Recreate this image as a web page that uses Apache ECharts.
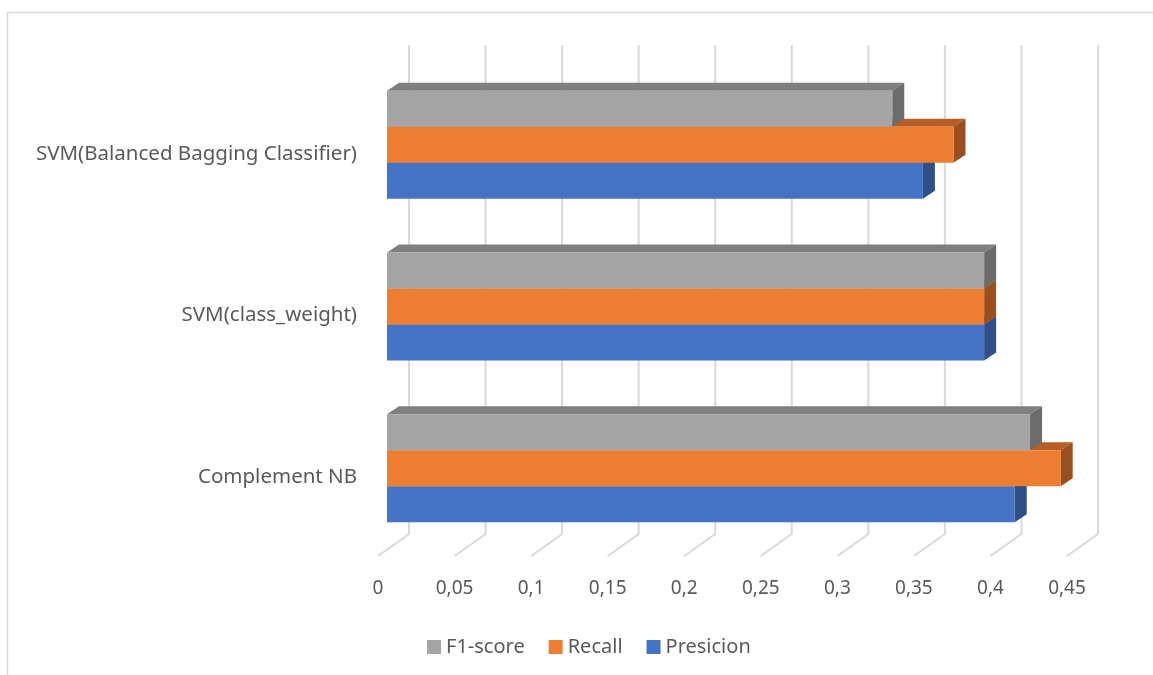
<!DOCTYPE html>
<html>
<head>
<meta charset="utf-8">
<title>Classifier metrics</title>
<script src="https://cdn.jsdelivr.net/npm/echarts@6/dist/echarts.min.js"></script>
<style>
  html, body { margin: 0; padding: 0; background: #ffffff; }
  #chart { width: 1153px; height: 675px; }
</style>
</head>
<body>
<div id="chart"></div>
<script>
// Models (bottom to top on the category axis)
const categories = ['Complement NB', 'SVM(class_weight)', 'SVM(Balanced Bagging Classifier)'];

// Scores per model, same order as categories
const f1Score   = [0.42, 0.39, 0.33];
const recall    = [0.44, 0.39, 0.37];
const presicion = [0.41, 0.39, 0.35];

// Value axis ticks
const xTicks = [0, 0.05, 0.1, 0.15, 0.2, 0.25, 0.3, 0.35, 0.4, 0.45];

const legendNames = ['F1-score', 'Recall', 'Presicion'];

// Oblique depth of the 3D boxes and of the back wall (pixels)
const BAR_DX = 12, BAR_DY = 8;
const WALL_DX = 22, WALL_TOP = 19, WALL_BOTTOM = 15;
const FLOOR_DX = 9, FLOOR_DY = 7;

const GRID_LEFT = 387, GRID_W = 689, GRID_TOP = 64, GRID_BOTTOM = 126;

const fontFamily = '"Noto Sans", "Open Sans", sans-serif';

// One 3D box per data item: top face, right face, front face.
// slot 0 = upper bar of the group, slot 2 = lower bar.
function boxRenderer(slot, front, top, side) {
  return function (params, api) {
    const v = api.value(0);
    const cat = api.value(1);
    const p0 = api.coord([0, cat]);
    const p1 = api.coord([v, cat]);
    const band = api.size([0, 1])[1];
    const barH = band * 0.668 / 3;
    const y0 = p0[1] - barH * 1.5 + slot * barH;
    const y1 = y0 + barH;
    const x0 = p0[0], x1 = p1[0];
    return {
      type: 'group',
      children: [
        { type: 'polygon',
          shape: { points: [[x0, y0], [x0 + BAR_DX, y0 - BAR_DY], [x1 + BAR_DX, y0 - BAR_DY], [x1, y0]] },
          style: { fill: top } },
        { type: 'polygon',
          shape: { points: [[x1, y0], [x1 + BAR_DX, y0 - BAR_DY], [x1 + BAR_DX, y1 - BAR_DY], [x1, y1]] },
          style: { fill: side } },
        { type: 'rect',
          shape: { x: x0, y: y0, width: x1 - x0, height: barH },
          style: { fill: front } }
      ]
    };
  };
}

// Back-wall gridlines with their floor segments
function wallRenderer(params, api) {
  const x = api.coord([api.value(0), 0])[0];
  const cs = params.coordSys;
  const bottom = cs.y + cs.height;
  return {
    type: 'polyline',
    shape: { points: [
      [x - FLOOR_DX, bottom + FLOOR_DY],
      [x + WALL_DX, bottom - WALL_BOTTOM],
      [x + WALL_DX, cs.y - WALL_TOP]
    ] },
    style: { stroke: '#d9d9d9', lineWidth: 2, fill: null }
  };
}

function pairs(values) {
  return values.map((v, i) => [v, i]);
}

const chart = echarts.init(document.getElementById('chart'), null, { renderer: 'canvas' });

chart.setOption({
  animation: false,
  backgroundColor: '#ffffff',
  textStyle: { fontFamily: fontFamily },
  graphic: [{
    type: 'rect',
    shape: { x: 7.5, y: 12.5, width: 1200, height: 700 },
    style: { fill: null, stroke: '#d9d9d9', lineWidth: 1.5 },
    silent: true
  }],
  legend: {
    data: legendNames,
    left: 422,
    top: 632,
    icon: 'rect',
    itemWidth: 14,
    itemHeight: 14,
    itemGap: 24,
    textStyle: { color: '#595959', fontSize: 20, fontFamily: fontFamily }
  },
  grid: [
    { left: GRID_LEFT, width: GRID_W, top: GRID_TOP, bottom: GRID_BOTTOM },
    { left: GRID_LEFT - FLOOR_DX, width: GRID_W, top: GRID_TOP, bottom: GRID_BOTTOM }
  ],
  xAxis: [
    { type: 'value', gridIndex: 0, min: 0, max: 0.45, interval: 0.05, show: false },
    { type: 'value', gridIndex: 1, min: 0, max: 0.45, interval: 0.05,
      axisLine: { show: false }, axisTick: { show: false }, splitLine: { show: false },
      axisLabel: {
        color: '#595959', fontSize: 19, margin: 30, fontFamily: fontFamily,
        formatter: v => String(+v.toFixed(2)).replace('.', ',')
      } }
  ],
  yAxis: [
    { type: 'category', gridIndex: 0, data: categories,
      axisLine: { show: false }, axisTick: { show: false }, splitLine: { show: false },
      axisLabel: { color: '#595959', fontSize: 20.5, margin: 30, fontFamily: fontFamily,
                   verticalAlign: 'top', lineHeight: 18 } },
    { type: 'category', gridIndex: 1, data: categories, show: false }
  ],
  series: [
    { type: 'custom', name: 'wall', xAxisIndex: 0, yAxisIndex: 0, z: 1, silent: true,
      renderItem: wallRenderer, data: xTicks.map(v => [v]), encode: { x: 0 } },
    { type: 'custom', name: 'Presicion', xAxisIndex: 0, yAxisIndex: 0, z: 2,
      itemStyle: { color: '#4472c4' },
      renderItem: boxRenderer(2, '#4472c4', '#3862ad', '#2f4f88'),
      data: pairs(presicion), encode: { x: 0, y: 1 } },
    { type: 'custom', name: 'Recall', xAxisIndex: 0, yAxisIndex: 0, z: 3,
      itemStyle: { color: '#ed7d31' },
      renderItem: boxRenderer(1, '#ed7d31', '#b65e25', '#9b4f1f'),
      data: pairs(recall), encode: { x: 0, y: 1 } },
    { type: 'custom', name: 'F1-score', xAxisIndex: 0, yAxisIndex: 0, z: 4,
      itemStyle: { color: '#a5a5a5' },
      renderItem: boxRenderer(0, '#a5a5a5', '#7f7f7f', '#6c6c6c'),
      data: pairs(f1Score), encode: { x: 0, y: 1 } }
  ]
});
</script>
</body>
</html>
